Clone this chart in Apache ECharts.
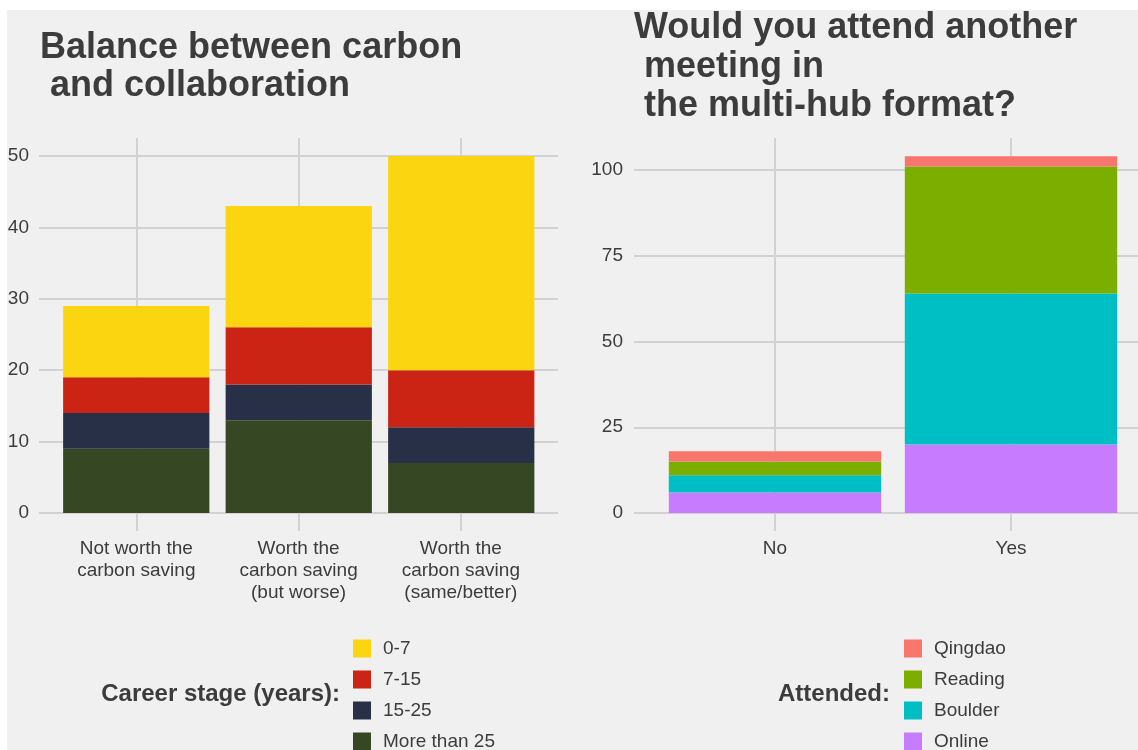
<!DOCTYPE html>
<html>
<head>
<meta charset="utf-8">
<script src="https://cdn.jsdelivr.net/npm/echarts@6/dist/echarts.min.js"></script>
<style>
  html, body { margin: 0; padding: 0; background: #ffffff; }
  #bg { position: absolute; left: 7px; top: 10px; width: 1131px; height: 740px; background: #F0F0F0; }
  #chart { position: absolute; left: 0; top: 0; width: 1138px; height: 750px; }
</style>
</head>
<body>
<div id="bg"></div>
<div id="chart"></div>
<script>
// ---- Left panel data ----
const leftCategories = ['Not worth the\ncarbon saving', 'Worth the\ncarbon saving\n(but worse)', 'Worth the\ncarbon saving\n(same/better)'];
const careerStages = ['More than 25', '15-25', '7-15', '0-7']; // bottom to top
const careerMoreThan25 = [9, 13, 7];
const career15to25 = [5, 5, 5];
const career7to15 = [5, 8, 8];
const career0to7 = [10, 17, 30];
const careerColors = ['#354823', '#273046', '#CB2314', '#FAD510'];

// ---- Right panel data ----
const rightCategories = ['No', 'Yes'];
const attended = ['Online', 'Boulder', 'Reading', 'Qingdao']; // bottom to top
const attOnline = [6, 20];
const attBoulder = [5, 44];
const attReading = [4, 37];
const attQingdao = [3, 3];
const attColors = ['#C77CFF', '#00BFC4', '#7CAE00', '#F8766D'];

const leftTitle = 'Balance between carbon\n and collaboration';
const rightTitle = 'Would you attend another\n meeting in\n the multi-hub format?';
const leftLegendTitle = 'Career stage (years):';
const rightLegendTitle = 'Attended:';

const TXT = '#3C3C3C';
const GRIDC = '#D2D2D2';
const FONT = 'Liberation Sans, Arial, Helvetica, sans-serif';

const chart = echarts.init(document.getElementById('chart'), null, { renderer: 'canvas' });

const careerSeries = [careerMoreThan25, career15to25, career7to15, career0to7];
const attSeries = [attOnline, attBoulder, attReading, attQingdao];

const series = [];
careerStages.forEach((name, i) => {
  series.push({
    name, type: 'bar', stack: 'career', xAxisIndex: 2, yAxisIndex: 2,
    data: careerSeries[i], barWidth: '90%',
    itemStyle: { color: careerColors[i] }, emphasis: { disabled: true }
  });
});
attended.forEach((name, i) => {
  series.push({
    name, type: 'bar', stack: 'att', xAxisIndex: 5, yAxisIndex: 5,
    data: attSeries[i], barWidth: '90%',
    itemStyle: { color: attColors[i] }, emphasis: { disabled: true }
  });
});

const hiddenAxis = (extra) => Object.assign({ show: false }, extra);
const xLabelStyle = { color: TXT, fontSize: 19, fontFamily: FONT, lineHeight: 22, margin: 7 };
const yLabelStyle = { color: TXT, fontSize: 19, fontFamily: FONT };

// one legend per item (top to bottom order), stacked rows 31px apart
const legends = [];
function addLegends(names, left) {
  names.forEach((name, i) => {
    legends.push({
      orient: 'vertical', left, top: 639 + i * 31, padding: 0,
      itemWidth: 18, itemHeight: 18, icon: 'rect', data: [name], selectedMode: false,
      textStyle: { color: TXT, fontSize: 19, fontFamily: FONT, lineHeight: 18, padding: [0, 0, 0, 7] }
    });
  });
}
addLegends(careerStages.slice().reverse(), 353);
addLegends(attended.slice().reverse(), 904);

const option = {
  animation: false,
  backgroundColor: 'transparent',
  textStyle: { fontFamily: FONT },
  grid: [
    { left: 39, top: 156, width: 519, height: 357 },
    { left: 136.3, top: 138, width: 324.5, height: 393 },
    { left: 55, top: 156, width: 487.5, height: 357 },
    { left: 634, top: 170, width: 520, height: 343 },
    { left: 775, top: 138, width: 236, height: 393 },
    { left: 657, top: 135.7, width: 472, height: 377.3 }
  ],
  xAxis: [
    hiddenAxis({ type: 'category', gridIndex: 0, data: leftCategories }),
    { type: 'category', gridIndex: 1, data: leftCategories, boundaryGap: false,
      axisLine: { show: false }, axisTick: { show: false },
      splitLine: { show: true, lineStyle: { color: GRIDC, width: 2 } },
      axisLabel: Object.assign({ interval: 0 }, xLabelStyle) },
    hiddenAxis({ type: 'category', gridIndex: 2, data: leftCategories }),
    hiddenAxis({ type: 'category', gridIndex: 3, data: rightCategories }),
    { type: 'category', gridIndex: 4, data: rightCategories, boundaryGap: false,
      axisLine: { show: false }, axisTick: { show: false },
      splitLine: { show: true, lineStyle: { color: GRIDC, width: 2 } },
      axisLabel: Object.assign({ interval: 0 }, xLabelStyle) },
    hiddenAxis({ type: 'category', gridIndex: 5, data: rightCategories })
  ],
  yAxis: [
    { type: 'value', gridIndex: 0, min: 0, max: 50, interval: 10,
      axisLine: { show: false }, axisTick: { show: false },
      splitLine: { show: true, lineStyle: { color: GRIDC, width: 2 } },
      axisLabel: Object.assign({ margin: 10 }, yLabelStyle) },
    hiddenAxis({ type: 'value', gridIndex: 1, min: 0, max: 1 }),
    hiddenAxis({ type: 'value', gridIndex: 2, min: 0, max: 50 }),
    { type: 'value', gridIndex: 3, min: 0, max: 100, interval: 25,
      axisLine: { show: false }, axisTick: { show: false },
      splitLine: { show: true, lineStyle: { color: GRIDC, width: 2 } },
      axisLabel: Object.assign({ margin: 11 }, yLabelStyle) },
    hiddenAxis({ type: 'value', gridIndex: 4, min: 0, max: 1 }),
    hiddenAxis({ type: 'value', gridIndex: 5, min: 0, max: 110 })
  ],
  legend: legends,
  graphic: [
    { type: 'text', left: 40, top: 29, style: { text: leftTitle, fill: TXT, font: 'bold 36px ' + FONT, lineHeight: 38 } },
    { type: 'text', left: 634, top: 9, style: { text: rightTitle, fill: TXT, font: 'bold 36px ' + FONT, lineHeight: 39 } },
    { type: 'text', x: 340, y: 694, style: { text: leftLegendTitle, fill: TXT, font: 'bold 24px ' + FONT, align: 'right', verticalAlign: 'middle' } },
    { type: 'text', x: 890, y: 694, style: { text: rightLegendTitle, fill: TXT, font: 'bold 24px ' + FONT, align: 'right', verticalAlign: 'middle' } }
  ],
  series
};
chart.setOption(option);
</script>
</body>
</html>
